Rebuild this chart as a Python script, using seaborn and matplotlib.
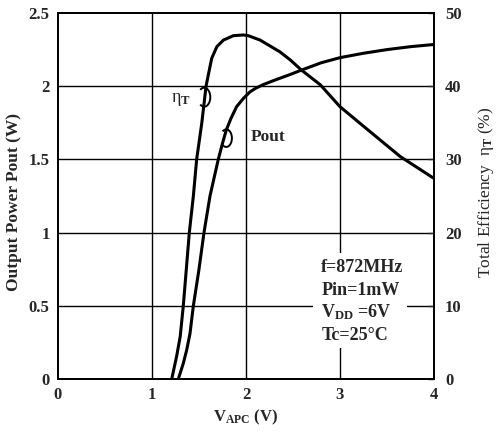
import matplotlib
matplotlib.use("Agg")
import matplotlib.pyplot as plt
import seaborn as sns
import pandas as pd
from matplotlib.patches import Rectangle, Arc

# ---- data ----
v_eff = [1.21, 1.262, 1.30, 1.333, 1.397, 1.44, 1.475, 1.53, 1.575, 1.60, 1.635,
         1.69, 1.76, 1.865, 1.97, 2.025, 2.15, 2.255, 2.36, 2.47, 2.59, 2.79,
         3.00, 3.30, 3.64, 4.00]
eff = [0, 3.1, 5.8, 10, 20, 25, 30, 35, 40, 41.6, 43.8,
       45.4, 46.3, 46.9, 47.0, 46.9, 46.3, 45.5, 44.7, 43.6, 42.2, 40.2,
       37.2, 34.0, 30.4, 27.4]

v_pout = [1.28, 1.333, 1.369, 1.404, 1.44, 1.50, 1.553, 1.617, 1.705, 1.75, 1.79,
          1.84, 1.90, 1.97, 2.04, 2.10, 2.18, 2.30, 2.47, 2.59, 2.80, 3.00,
          3.25, 3.50, 3.75, 4.00]
pout = [0, 0.107, 0.198, 0.31, 0.5, 0.75, 1.0, 1.25, 1.5, 1.61, 1.70,
        1.78, 1.86, 1.915, 1.96, 1.985, 2.01, 2.04, 2.08, 2.11, 2.16, 2.195,
        2.225, 2.25, 2.27, 2.285]

x_ticks = [0, 1, 2, 3, 4]
y_ticks = [0, 0.5, 1, 1.5, 2, 2.5]
y_ticklabels = ["0", "0.5", "1", "1.5", "2", "2.5"]
y2_ticks = [0, 10, 20, 30, 40, 50]
cond_lines = ["f=872MHz", "Pin=1mW", r"V$_{\rm DD}$ =6V", "Tc=25°C"]

# ---- style ----
sns.set_style("white")
plt.rcParams["font.family"] = ["Liberation Serif", "DejaVu Serif"]
plt.rcParams["mathtext.fontset"] = "custom"
plt.rcParams["mathtext.rm"] = "Liberation Serif:bold"
plt.rcParams["mathtext.bf"] = "Liberation Serif:bold"
plt.rcParams["mathtext.it"] = "Liberation Serif:italic"

fig = plt.figure(figsize=(4.99, 4.34), dpi=100)
ax = fig.add_axes([58 / 499, 1 - 379 / 434, (434 - 58) / 499, (379 - 13) / 434])
ax2 = ax.twinx()

ax.set_xlim(0, 4)
ax.set_ylim(0, 2.5)
ax2.set_ylim(0, 50)

# grid
for gx in [1, 2, 3]:
    ax.axvline(gx, color="black", lw=1.0, zorder=0.5)
for gy in [0.5, 1, 1.5, 2]:
    ax.axhline(gy, color="black", lw=1.0, zorder=0.5)

# white box behind conditions text
ax.add_patch(Rectangle((2.71, 0.21), 1.0, 0.65, facecolor="white",
                       edgecolor="none", zorder=1))

df_p = pd.DataFrame({"v": v_pout, "p": pout})
df_e = pd.DataFrame({"v": v_eff, "e": eff})
sns.lineplot(data=df_p, x="v", y="p", ax=ax, color="black", lw=2.2, zorder=3)
sns.lineplot(data=df_e, x="v", y="e", ax=ax2, color="black", lw=2.2, zorder=3)
for ln in ax.lines + ax2.lines:
    ln.set_solid_joinstyle("round")
    ln.set_solid_capstyle("round")

# conditions text
cond_y = [0.76, 0.605, 0.455, 0.30]
for t, yy in zip(cond_lines, cond_y):
    ax.text(2.80, yy, t, fontsize=13, fontweight="bold",
            ha="left", va="center", zorder=4)

# curve labels with loops
ax.text(1.31, 1.91, r"η$_{\rm T}$", fontsize=13, ha="center", va="center", zorder=4)
ax.add_patch(Arc((1.555, 1.925), 0.13, 0.13, theta1=-130, theta2=130,
                 color="black", lw=1.4, zorder=4))
ax.text(2.23, 1.65, "Pout", fontsize=12.5, fontweight="bold", ha="center",
        va="center", zorder=4)
ax.add_patch(Arc((1.79, 1.645), 0.12, 0.12, theta1=-130, theta2=130,
                 color="black", lw=1.4, zorder=4))

# ticks
ax.set_xticks(x_ticks)
ax.set_xticklabels([str(v) for v in x_ticks], fontsize=12, fontweight="bold")
ax.set_yticks(y_ticks)
ax.set_yticklabels(y_ticklabels, fontsize=12, fontweight="bold")
ax2.set_yticks(y2_ticks)
ax2.set_yticklabels([str(v) for v in y2_ticks], fontsize=12, fontweight="bold")
ax.tick_params(axis="both", length=0, pad=6)
ax2.tick_params(axis="y", direction="in", length=4, width=1, pad=8)

ax.set_xlabel(r"V$_{\rm APC}$ (V)", fontsize=12, fontweight="bold", labelpad=3)
ax.set_ylabel("Output Power Pout (W)", fontsize=12.5, fontweight="bold")
ax.yaxis.set_label_coords(-0.096, 0.484)
ax2.set_ylabel(r"Total Efficiency  η$_{\rm T}$ (%)", fontsize=12.5)
ax2.yaxis.set_label_coords(1.112, 0.51)

for a in (ax, ax2):
    for s in a.spines.values():
        s.set_color("black")
        s.set_linewidth(1.3)

fig.savefig("out.png", dpi=100)
